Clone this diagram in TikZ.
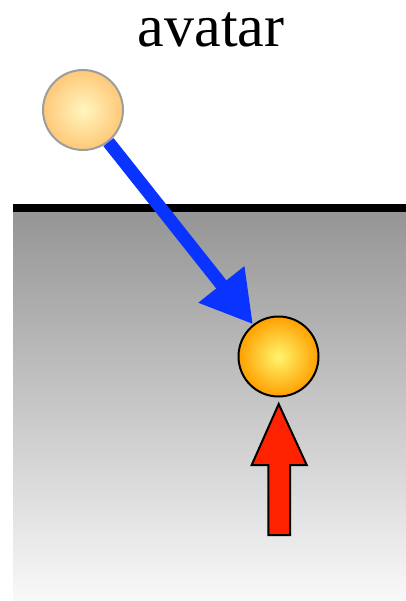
\documentclass[tikz,border=0pt]{standalone}
\usepackage{fontspec}
\setmainfont{Liberation Serif}
\usetikzlibrary{arrows.meta}
\definecolor{bluearr}{HTML}{0A33FF}
\definecolor{redarr}{HTML}{FF2200}
\tikzset{
  ball/.style={circle, minimum size=80pt, inner sep=0pt, line width=2pt},
  paleball/.style={ball, draw=gray!90!black!70, inner color={rgb,255:red,255;green,246;blue,190}, outer color={rgb,255:red,255;green,200;blue,120}},
  hotball/.style={ball, draw=black, inner color={rgb,255:red,255;green,245;blue,110}, outer color={rgb,255:red,255;green,160;blue,0}},
  kick/.style={line width=13pt, draw=bluearr, -{Triangle[length=51pt,width=55pt]}},
  push/.style={fill=redarr, draw=black, line width=2pt, line join=miter}
}
\begin{document}
\begin{tikzpicture}[x=1pt,y=-1pt]
\useasboundingbox (0,0) rectangle (406,601);
% ground
\shade[top color={rgb,255:red,148;green,148;blue,148}, bottom color={rgb,255:red,249;green,249;blue,249}] (13,208) rectangle (406,601);
\draw[line width=8pt] (13,208) -- (406,208);
% title
\node[anchor=base, font=\fontsize{60}{60}\selectfont] (title) at (211,47) {avatar};
% balls
\node[paleball] (av) at (83,110) {};
\node[hotball] (tg) at (278.5,356.5) {};
\draw[kick] (av) -- (tg);
% red arrow
\draw[push] (278.7,404) -- (306.7,465) -- (290,465) -- (290,535) -- (268.3,535) -- (268.3,465) -- (251.7,465) -- cycle;
\end{tikzpicture}
\end{document}
